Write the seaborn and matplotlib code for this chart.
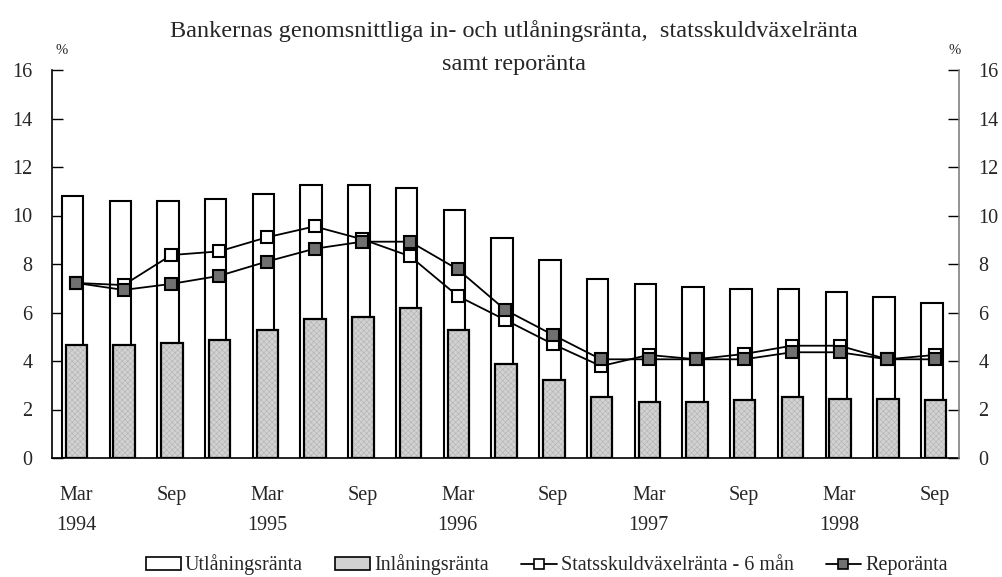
import numpy as np
import pandas as pd
import matplotlib
matplotlib.use("Agg")
import matplotlib.pyplot as plt
import seaborn as sns
from matplotlib.patches import Patch
from matplotlib.lines import Line2D

# ---- data ----
quarters = ["Mar 1994", "Jun 1994", "Sep 1994", "Dec 1994",
            "Mar 1995", "Jun 1995", "Sep 1995", "Dec 1995",
            "Mar 1996", "Jun 1996", "Sep 1996", "Dec 1996",
            "Mar 1997", "Jun 1997", "Sep 1997", "Dec 1997",
            "Mar 1998", "Jun 1998", "Sep 1998"]
utlaning = [10.80, 10.61, 10.61, 10.68, 10.89, 11.27, 11.27, 11.13, 10.21, 9.09,
            8.18, 7.38, 7.19, 7.07, 6.98, 6.98, 6.86, 6.65, 6.40]
inlaning = [4.67, 4.67, 4.74, 4.88, 5.26, 5.73, 5.80, 6.19, 5.26, 3.89,
            3.23, 2.50, 2.31, 2.31, 2.38, 2.50, 2.43, 2.43, 2.38]
statsskuld = [7.22, 7.13, 8.37, 8.52, 9.10, 9.55, 9.02, 8.32, 6.68, 5.69,
              4.69, 3.79, 4.25, 4.07, 4.29, 4.63, 4.63, 4.07, 4.25]
repo = [7.22, 6.93, 7.18, 7.51, 8.10, 8.63, 8.92, 8.92, 7.78, 6.10,
        5.07, 4.07, 4.07, 4.07, 4.07, 4.36, 4.36, 4.07, 4.07]
xtick_labels = ["Mar\n1994", "Sep", "Mar\n1995", "Sep", "Mar\n1996", "Sep",
                "Mar\n1997", "Sep", "Mar\n1998", "Sep"]
yticks = [0, 2, 4, 6, 8, 10, 12, 14, 16]
title = "Bankernas genomsnittliga in- och utlåningsränta,  statsskuldväxelränta\nsamt reporänta"
legend_labels = ["Utlåningsränta", "Inlåningsränta", "Statsskuldväxelränta - 6 mån", "Reporänta"]

sns.set_style("white")
plt.rcParams["font.family"] = ["Liberation Serif", "DejaVu Serif"]
plt.rcParams["hatch.linewidth"] = 0.4

df = pd.DataFrame({"q": quarters, "utl": utlaning, "inl": inlaning,
                   "stat": statsskuld, "repo": repo})
df["i"] = np.arange(len(df))

fig = plt.figure(figsize=(10.03, 5.77), dpi=100)
ax = fig.add_axes([52 / 1003, 1 - 458 / 577, (959 - 52) / 1003, (458 - 70) / 577])

bw = 0.45
# Utlåningsränta (white bars, slightly left)
sns.barplot(x=df["i"] - 0.07, y=df["utl"], native_scale=True, width=bw, ax=ax,
            color="white", saturation=1, edgecolor="black", linewidth=1.5,
            errorbar=None, zorder=2)
# Inlåningsränta (gray textured bars, overlapping)
sns.barplot(x=df["i"] + 0.012, y=df["inl"], native_scale=True, width=bw, ax=ax,
            color="#d2d2d2", saturation=1, edgecolor="#b2b2b2", linewidth=0,
            hatch="xxxxxx", errorbar=None, zorder=3)
sns.barplot(x=df["i"] + 0.012, y=df["inl"], native_scale=True, width=bw, ax=ax,
            fill=False, color="black", linewidth=1.6, errorbar=None, zorder=3.5)

# Lines
sns.lineplot(x=df["i"], y=df["stat"], ax=ax, color="black", linewidth=1.3,
             marker="s", markersize=9, markerfacecolor="white",
             markeredgecolor="black", markeredgewidth=1.5, zorder=5)
sns.lineplot(x=df["i"], y=df["repo"], ax=ax, color="black", linewidth=1.3,
             marker="s", markersize=9, markerfacecolor="#707070",
             markeredgecolor="black", markeredgewidth=1.5, zorder=6)

n = len(df)
ax.set_xlim(-0.5, n - 0.5)
ax.set_ylim(0, 16)
ax.set_xlabel("")
ax.set_ylabel("")
ax.set_yticks(yticks)
ax.set_yticklabels([str(v) for v in yticks], fontsize=14.5)
ax.tick_params(axis="y", direction="in", length=8, width=1, pad=14, color="black")
ax.set_xticks(np.arange(0, n, 2))
ax.set_xticklabels(xtick_labels, fontsize=14.5)
for t in ax.get_xticklabels():
    t.set_linespacing(1.8)
ax.tick_params(axis="x", which="major", length=0, pad=20)
ax.set_xticks(np.arange(0.5, n - 1, 1), minor=True)
ax.tick_params(axis="x", which="minor", direction="in", length=6, width=1, color="black")

ax.spines["top"].set_visible(False)
ax.spines["right"].set_visible(False)
ax.spines["left"].set_color("black")
ax.spines["bottom"].set_color("black")
ax.spines["left"].set_linewidth(1.2)
ax.spines["bottom"].set_linewidth(1.2)

ax2 = ax.twinx()
ax2.set_ylim(0, 16)
ax2.set_yticks(yticks)
ax2.set_yticklabels([str(v) for v in yticks], fontsize=14.5)
ax2.tick_params(axis="y", direction="in", length=8, width=1, pad=14, color="black")
for s in ["top", "left", "bottom"]:
    ax2.spines[s].set_visible(False)
ax2.spines["right"].set_color("#808080")
ax2.spines["right"].set_linewidth(1.2)

fig.text(0.512, 1 - 20 / 577, title, ha="center", va="top", fontsize=17.5, linespacing=1.75)
fig.text(62 / 1003, 1 - 50 / 577, "%", ha="center", va="center", fontsize=10.5)
fig.text(955 / 1003, 1 - 50 / 577, "%", ha="center", va="center", fontsize=10.5)

handles = [
    Patch(facecolor="white", edgecolor="black", linewidth=1.2),
    Patch(facecolor="#d2d2d2", edgecolor="black", linewidth=1.2),
    Line2D([0], [0], color="black", linewidth=1.3, marker="s", markersize=7,
           markerfacecolor="white", markeredgecolor="black", markeredgewidth=1.2),
    Line2D([0], [0], color="black", linewidth=1.3, marker="s", markersize=7,
           markerfacecolor="#707070", markeredgecolor="black", markeredgewidth=1.2),
]
fig.legend(handles, legend_labels, loc="center", bbox_to_anchor=(0.545, 1 - 565 / 577),
           ncol=4, frameon=False, fontsize=14.5, handlelength=1.75, handleheight=0.6,
           handletextpad=0.2, columnspacing=1.6, borderaxespad=0)

fig.savefig("out.png", dpi=100)
